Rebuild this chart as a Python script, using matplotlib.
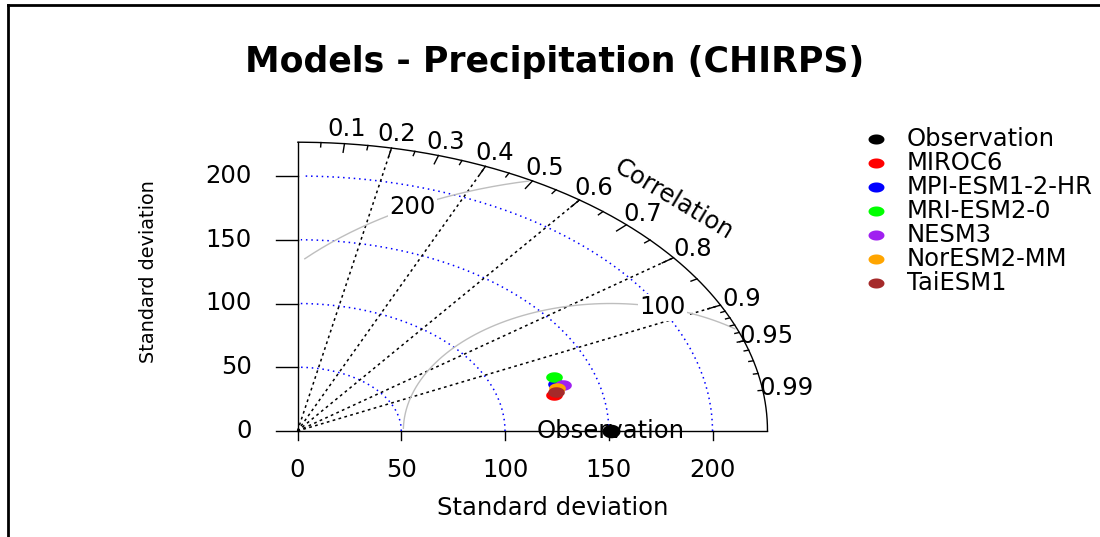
import numpy as np
import matplotlib.pyplot as plt
from matplotlib.lines import Line2D

# Taylor diagram statistics, precipitation vs CHIRPS
ref_name = "Observation"
ref_sd = 151.0
models = ["MIROC6", "MPI-ESM1-2-HR", "MRI-ESM2-0", "NESM3", "NorESM2-MM", "TaiESM1"]
model_sd = [126.8, 129.9, 130.9, 133.2, 129.4, 128.4]
model_corr = [0.975, 0.958, 0.946, 0.962, 0.965, 0.971]
model_colors = ["#FF0000", "#0000FF", "#00FF00", "#A020F0", "#FFA500", "#A52A2A"]

sd_ticks = [0, 50, 100, 150, 200]
corr_lines = [0.2, 0.4, 0.6, 0.8, 0.9]
corr_labels = [0.1, 0.2, 0.3, 0.4, 0.5, 0.6, 0.7, 0.8, 0.9, 0.95, 0.99]
gamma_levels = [100, 200]

plt.rcParams['font.family'] = ['DejaVu Sans']
FS = 17.5

W, H = 1100, 537
ox, oy = 297.5, 431.0      # pixel position of the origin
sx, sy = 2.075, 1.275      # pixels per unit

fig = plt.figure(figsize=(W / 100, H / 100), dpi=100)
ax = fig.add_axes([0, 0, 1, 1])
ax.set_xlim(-ox / sx, (W - ox) / sx)
ax.set_ylim((oy - H) / sy, oy / sy)
ax.axis('off')

def px(x, y):
    # pixel -> data
    return (x - ox) / sx, (oy - y) / sy

maxsd = 1.5 * max(ref_sd, max(model_sd))

# outer correlation arc and axes
t = np.arange(0, np.pi / 2, 0.01)
ax.plot(np.cos(t) * maxsd, np.sin(t) * maxsd, color='black', lw=1)
ax.plot([0, maxsd], [0, 0], color='black', lw=1)
ax.plot([0, 0], [0, maxsd], color='black', lw=1)

# axis ticks
for v in sd_ticks:
    ax.plot([v, v], [0, -9 / sy], color='black', lw=1)
    ax.text(v, px(0, 470)[1], str(v), ha='center', va='center', fontsize=FS)
    ax.plot([0, -22 / sx], [v, v], color='black', lw=1)
    ax.text(px(252, 0)[0], v, str(v), ha='right', va='center', fontsize=FS)

ax.text(*px(553, 508), "Standard deviation", ha='center', va='center', fontsize=FS)
ax.text(*px(148, 272), "Standard deviation", ha='center', va='center',
        rotation=90, fontsize=13.9)

# sd arcs
t = np.arange(0, np.pi / 2, 0.03)
for r in sd_ticks[1:]:
    ax.plot(np.cos(t) * r, np.sin(t) * r, color='blue', lw=1.1, ls=(0, (1, 2.5)))

# correlation rays
for c in corr_lines:
    ax.plot([0, maxsd * c], [0, maxsd * np.sqrt(1 - c ** 2)], color='black',
            lw=1.1, ls=(0, (1.8, 2.2)))

# centred RMS arcs around the reference
t = np.arange(0, np.pi + 1e-9, 0.03)
labelpos = [44, 69]
for g, lp in zip(gamma_levels, labelpos):
    xc = np.cos(t) * g + ref_sd
    yc = np.sin(t) * g
    neg = np.where(xc < 0)[0]
    end = neg.min() if len(neg) else len(t)
    out = np.where(xc ** 2 + yc ** 2 > maxsd ** 2)[0]
    start = out.max() + 1 if len(out) else 0
    ax.plot(xc[start:end], yc[start:end], color='#BEBEBE', lw=1)
    ax.text(xc[lp], yc[lp], str(g), ha='center', va='center', fontsize=FS,
            bbox=dict(facecolor='white', edgecolor='none', pad=1))

# correlation ticks
for c, k in [(np.arange(0.1, 0.91, 0.1), 0.97), (np.arange(0.05, 0.96, 0.1), 0.985),
             (np.arange(0.91, 0.995, 0.01), 0.99)]:
    a = np.arccos(c)
    for ang in a:
        ax.plot([np.cos(ang) * maxsd, np.cos(ang) * k * maxsd],
                [np.sin(ang) * maxsd, np.sin(ang) * k * maxsd], color='black', lw=1)

for c in corr_labels:
    ang = np.arccos(c)
    ax.text(np.cos(ang) * 1.05 * maxsd, np.sin(ang) * 1.05 * maxsd, f"{c:g}",
            ha='center', va='center', fontsize=FS)
ax.text(0.8 * maxsd, 0.8 * maxsd, "Correlation", ha='center', va='center',
        rotation=-31, rotation_mode='anchor', fontsize=FS)

# stretched dot marker
th = np.linspace(0, 2 * np.pi, 40)
dot = np.column_stack([np.cos(th), 0.63 * np.sin(th)])
obs_dot = np.column_stack([np.cos(th), 0.75 * np.sin(th)])

ax.text(ref_sd, 0, ref_name, ha='center', va='center', fontsize=FS, zorder=3)
ax.plot(ref_sd, 0, marker=obs_dot, ms=13, color='black', mew=0, zorder=4)

for sd, c, col in zip(model_sd, model_corr, model_colors):
    ax.plot(sd * c, sd * np.sqrt(1 - c ** 2), marker=dot, ms=12, color=col,
            mew=0, zorder=5)

# legend
names = [ref_name] + models
cols = ['black'] + model_colors
for i, (n, col) in enumerate(zip(names, cols)):
    yy = 139.3 + 24 * i
    ax.plot(*px(876, yy), marker=dot, ms=11.5, color=col, mew=0, clip_on=False)
    ax.text(*px(907, yy), n, ha='left', va='center', fontsize=FS)

fig.text(555 / W, 1 - 62 / H, "Models - Precipitation (CHIRPS)", ha='center',
         va='center', fontsize=25, fontweight='bold')

# frame
fig.add_artist(Line2D([8 / W, 1], [1 - 5 / H, 1 - 5 / H], color='black', lw=2,
                      transform=fig.transFigure))
fig.add_artist(Line2D([8 / W, 8 / W], [0, 1 - 5 / H], color='black', lw=2,
                      transform=fig.transFigure))

fig.savefig('out.png', dpi=100)
